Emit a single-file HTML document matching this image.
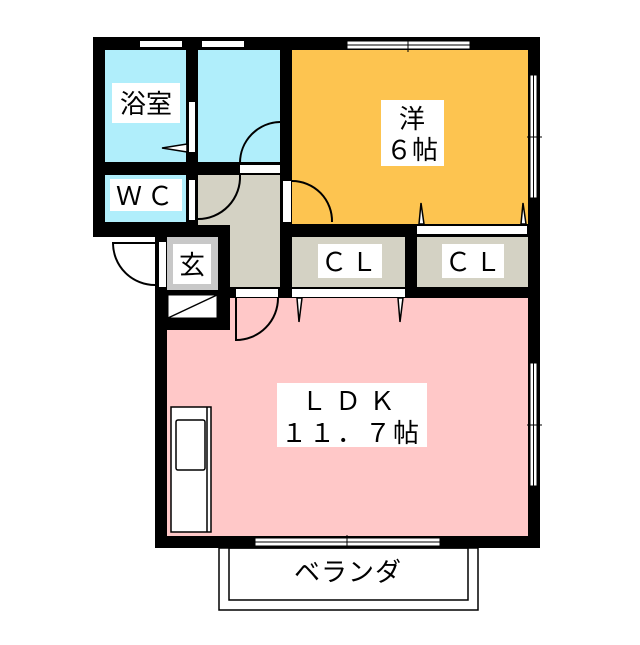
<!DOCTYPE html>
<html><head><meta charset="utf-8"><style>
html,body{margin:0;padding:0;background:#fff}
text{font-family:"Liberation Sans","Noto Sans CJK JP",sans-serif;font-size:26px;fill:#000}
</style></head><body>
<svg width="640" height="640" viewBox="0 0 640 640" xmlns="http://www.w3.org/2000/svg">
<rect x="93" y="37" width="447" height="200" fill="#000"/>
<rect x="155" y="224" width="385" height="324" fill="#000"/>
<rect x="93" y="222" width="62" height="15" fill="#000"/>
<rect x="105" y="50" width="81" height="112" fill="#B0EEFB"/>
<rect x="198" y="50" width="82" height="112" fill="#B0EEFB"/>
<rect x="105" y="175" width="81" height="47" fill="#B0EEFB"/>
<rect x="198" y="175" width="82" height="50" fill="#D4D2C4"/>
<rect x="230" y="225" width="50" height="62" fill="#D4D2C4"/>
<rect x="167" y="237" width="51" height="53" fill="#C8C8C8"/>
<rect x="168" y="295" width="49" height="23" fill="#fff" stroke="#000" stroke-width="1"/>
<line x1="168" y1="318" x2="217" y2="295" stroke="#000" stroke-width="1.5"/>
<rect x="292" y="50" width="236" height="174" fill="#FDC450"/>
<rect x="292" y="237" width="113" height="50" fill="#D4D2C4"/>
<rect x="417" y="237" width="111" height="50" fill="#D4D2C4"/>
<rect x="230" y="298" width="298" height="238" fill="#FFC8C8"/>
<rect x="167" y="330" width="63" height="206" fill="#FFC8C8"/>
<rect x="140" y="41" width="42" height="6" fill="#fff"/>
<rect x="202" y="41" width="42" height="6" fill="#fff"/>
<g fill="#fff" stroke="#000" stroke-width="1">
<rect x="347" y="41" width="123" height="8"/>
<rect x="530" y="75" width="7" height="123"/>
<rect x="530" y="363" width="7" height="123"/>
<rect x="255" y="538" width="185" height="8"/>
</g>
<line x1="347" y1="45" x2="470" y2="45" stroke="#000"/>
<line x1="408" y1="38" x2="408" y2="52" stroke="#000"/>
<line x1="533.5" y1="75" x2="533.5" y2="198" stroke="#000"/>
<line x1="527" y1="137" x2="542" y2="137" stroke="#000"/>
<line x1="533.5" y1="363" x2="533.5" y2="486" stroke="#000"/>
<line x1="527" y1="425" x2="542" y2="425" stroke="#000"/>
<line x1="255" y1="542" x2="440" y2="542" stroke="#000"/>
<line x1="347" y1="535" x2="347" y2="550" stroke="#000"/>
<g fill="#fff">
<rect x="189" y="102" width="6" height="50"/>
<rect x="240" y="165" width="40" height="8"/>
<rect x="189" y="180" width="6" height="40"/>
<rect x="283" y="181" width="8" height="41"/>
<rect x="159" y="242" width="7" height="45"/>
<rect x="236" y="289" width="42" height="8"/>
<rect x="292" y="289" width="113" height="8"/>
<rect x="417" y="226" width="110" height="8"/>
</g>
<g fill="none" stroke="#000" stroke-width="2">
<path d="M240 163 A41 41 0 0 1 280 122"/>
<path d="M198 219 A42 42 0 0 0 240 175"/>
<path d="M292 181 A40 40 0 0 1 332 222"/>
<path d="M155 285 A42 42 0 0 1 113 243 L155 243"/>
<path d="M278 298 A42 42 0 0 1 236 340 L236 298"/>
</g>
<g fill="#fff" stroke="#000" stroke-width="1.5">
<polygon points="162,148 187,144 187,152"/>
<polygon points="297,298 302,298 299,322"/>
<polygon points="398,298 403,298 400,322"/>
<polygon points="419,224 424,224 421,203"/>
<polygon points="521,224 526,224 523,203"/>
</g>
<rect x="171" y="407" width="40" height="125" fill="#fff" stroke="#000" stroke-width="1.5"/>
<line x1="207" y1="407" x2="207" y2="532" stroke="#000" stroke-width="1.5"/>
<rect x="176" y="420" width="29" height="50" rx="2" fill="#fff" stroke="#000" stroke-width="1.5"/>
<rect x="219" y="548" width="259" height="62" fill="#fff" stroke="#000" stroke-width="1.5"/>
<rect x="229" y="548" width="239" height="52" fill="none" stroke="#000" stroke-width="1.5"/>
<g fill="#fff">
<rect x="112" y="83" width="68" height="40"/>
<rect x="110" y="179" width="72" height="32"/>
<rect x="173" y="244" width="38" height="40"/>
<rect x="381" y="100" width="63" height="66"/>
<rect x="318" y="244" width="64" height="34"/>
<rect x="442" y="244" width="62" height="34"/>
<rect x="277" y="383" width="150" height="64"/>
</g>
<text x="146" y="113" text-anchor="middle">浴室</text>
<text x="147" y="205" text-anchor="middle" letter-spacing="5">ＷＣ</text>
<text x="192" y="274" text-anchor="middle">玄</text>
<text x="412" y="128" text-anchor="middle">洋</text>
<text x="412" y="159" text-anchor="middle">６帖</text>
<text x="351" y="271" text-anchor="middle" letter-spacing="4">ＣＬ</text>
<text x="475" y="271" text-anchor="middle" letter-spacing="4">ＣＬ</text>
<text x="352" y="410" text-anchor="middle" letter-spacing="8">ＬＤＫ</text>
<text x="351" y="442" text-anchor="middle" letter-spacing="2">１１．７帖</text>
<text x="348" y="581" text-anchor="middle" letter-spacing="1">ベランダ</text>
</svg>
</body></html>
